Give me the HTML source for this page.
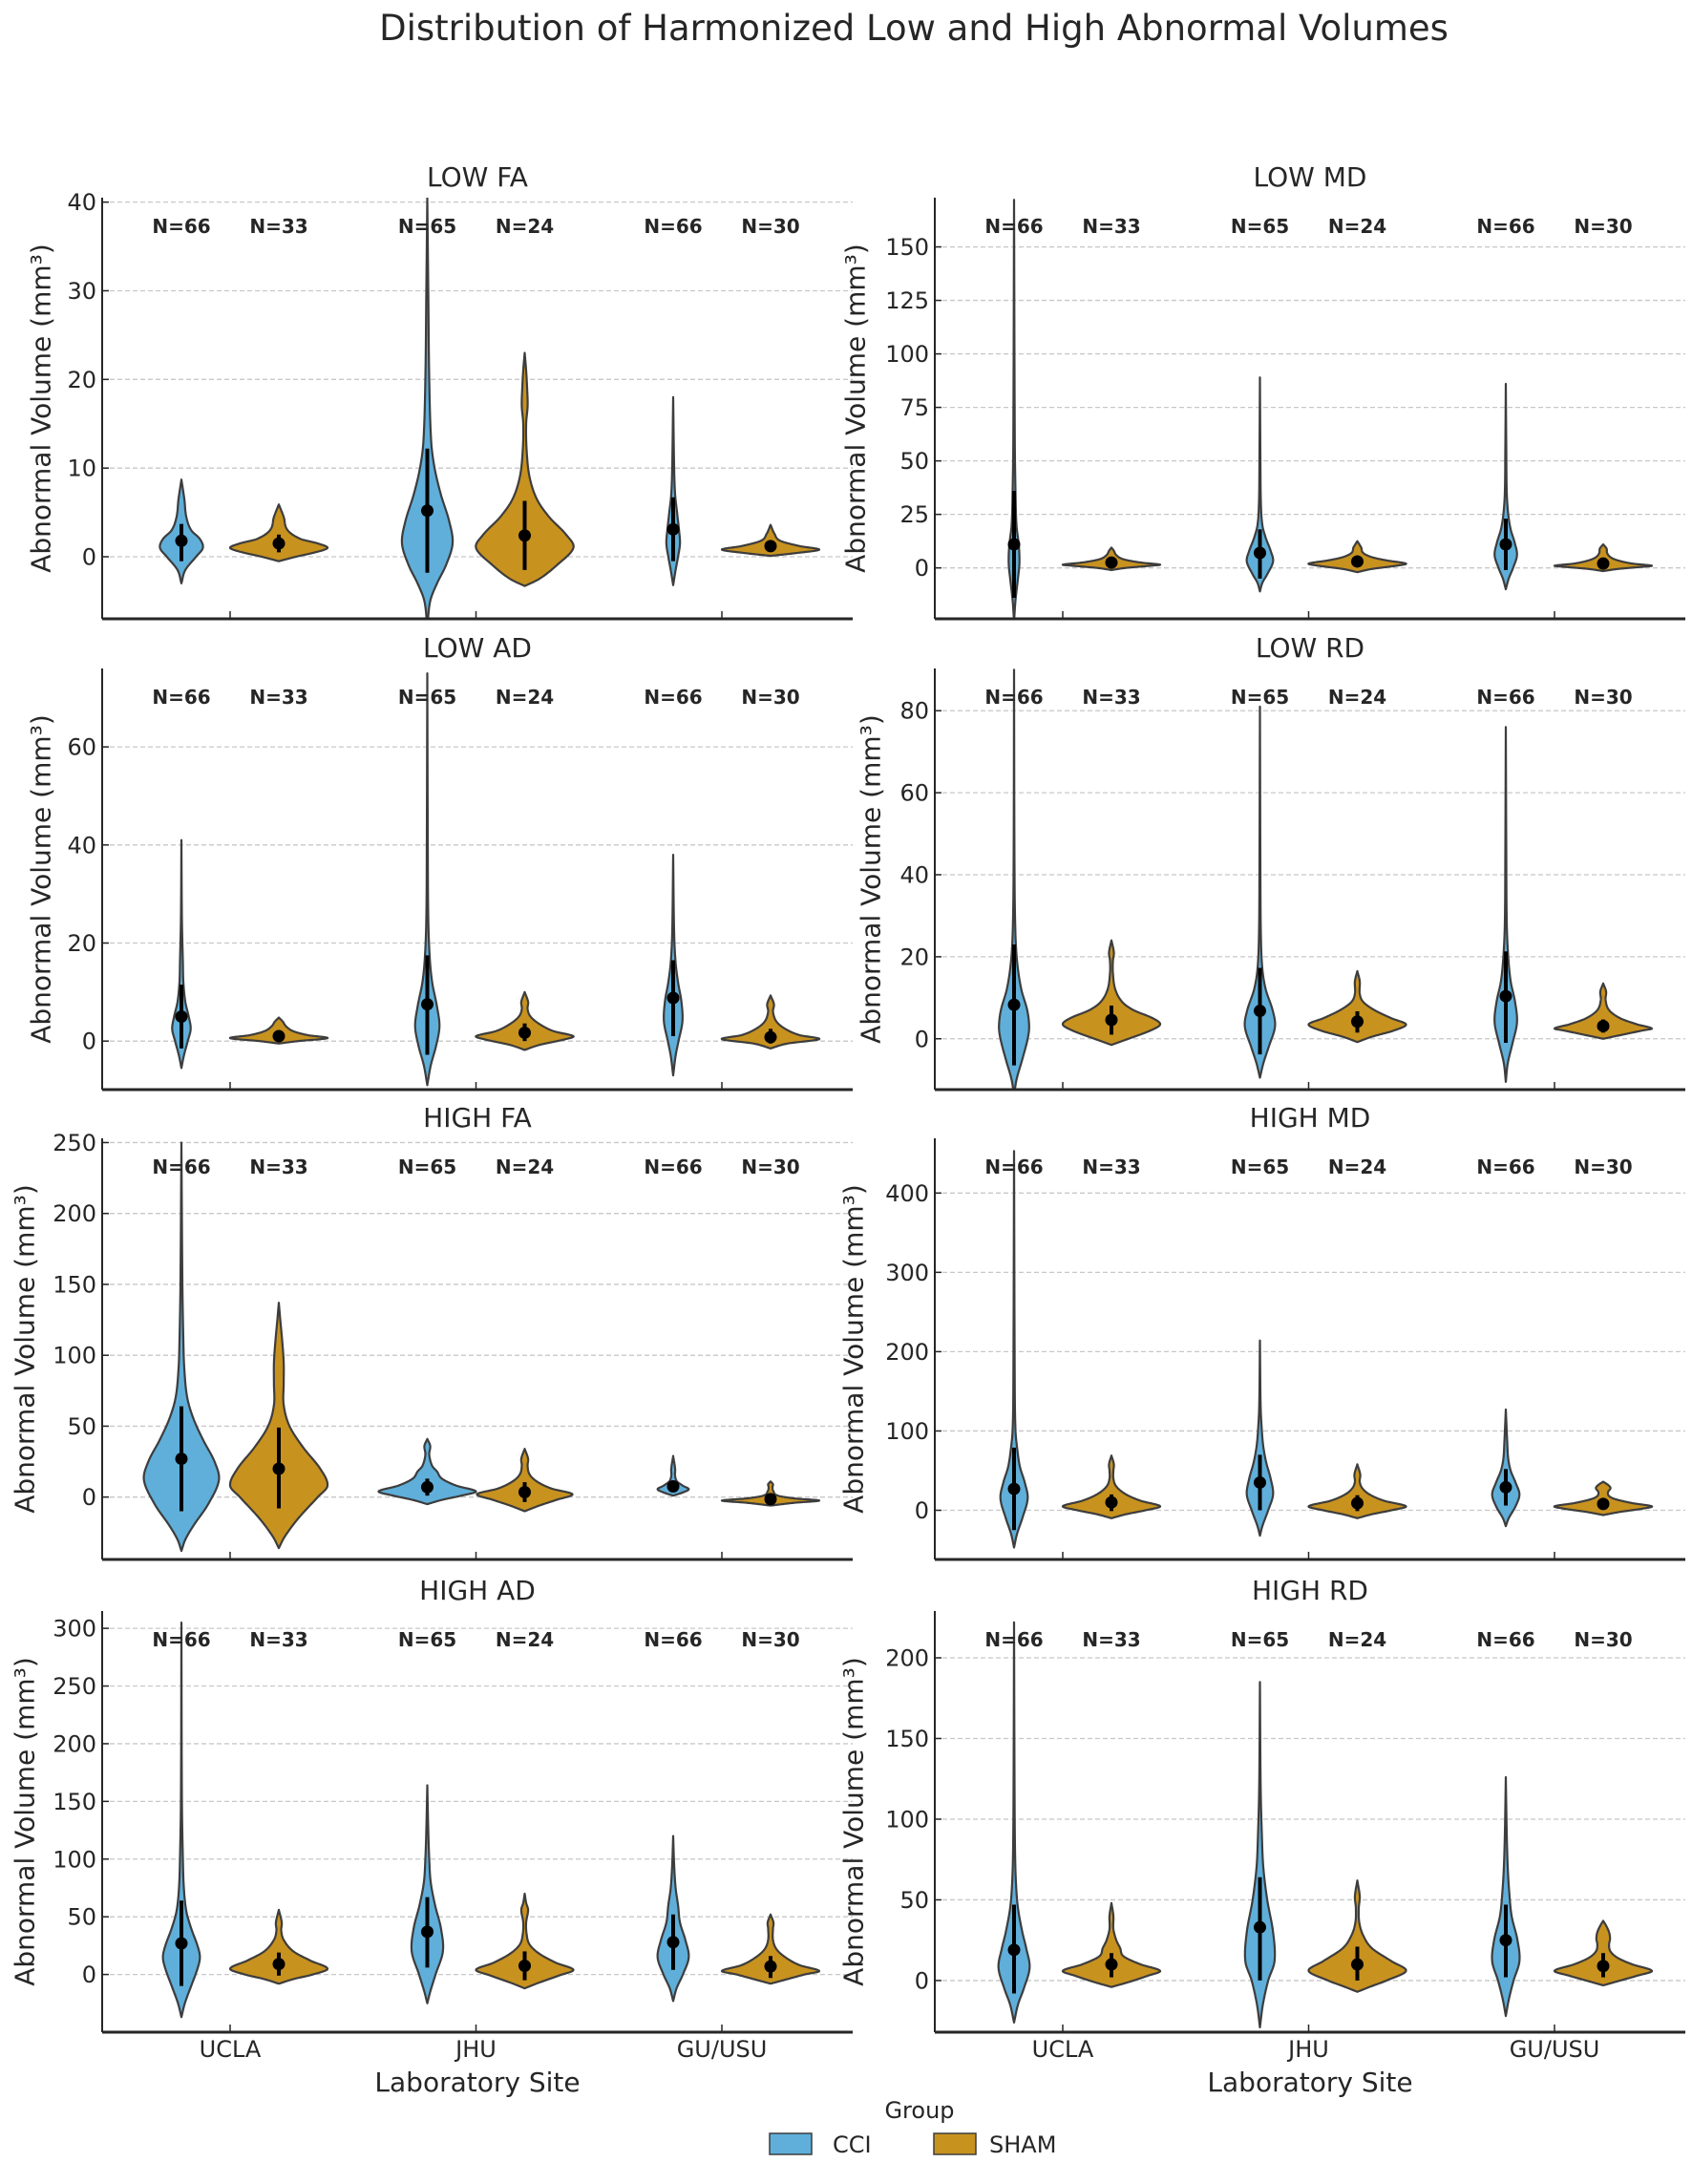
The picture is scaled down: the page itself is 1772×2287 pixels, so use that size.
<!DOCTYPE html>
<html><head><meta charset="utf-8">
<style>
html,body{margin:0;padding:0;background:#fff;}
svg{display:block;font-family:"DejaVu Sans","Liberation Sans",sans-serif;}
</style></head>
<body>
<svg id="fig" width="1772" height="2287" viewBox="0 0 1772 2287" xmlns="http://www.w3.org/2000/svg">
<rect width="1772" height="2287" fill="#fff"/>
<text x="957" y="42" font-size="37" fill="#262626" text-anchor="middle">Distribution of Harmonized Low and High Abnormal Volumes</text>
<text x="500" y="2190" font-size="28" fill="#262626" text-anchor="middle">Laboratory Site</text>
<text x="1372" y="2190" font-size="28" fill="#262626" text-anchor="middle">Laboratory Site</text>
<g>
<text x="963" y="2218" font-size="24" fill="#262626" text-anchor="middle">Group</text>
<rect x="806" y="2234" width="44" height="22" fill="#5fafda" stroke="#3d3d3d" stroke-width="1.5"/>
<text x="872" y="2254" font-size="24" fill="#262626">CCI</text>
<rect x="978" y="2234" width="44" height="22" fill="#c8921f" stroke="#3d3d3d" stroke-width="1.5"/>
<text x="1036" y="2254" font-size="24" fill="#262626">SHAM</text>
</g>
</svg>
<script>
// ---- data (order: UCLA CCI, UCLA SHAM, JHU CCI, JHU SHAM, GU/USU CCI, GU/USU SHAM) ----
const sites = ['UCLA','JHU','GU/USU'];
const groups = ['CCI','SHAM'];
const counts = [66,33,65,24,66,30];
const panelTitles = ['LOW FA','LOW MD','LOW AD','LOW RD','HIGH FA','HIGH MD','HIGH AD','HIGH RD'];
const yMins = [-7.0,-23.8,-9.9,-12.4,-44,-62,-50,-32];
const yMaxs = [40.5,173,76,90.3,253,469,315,229];
const yTicks = [[0,10,20,30,40],[0,25,50,75,100,125,150],[0,20,40,60],[0,20,40,60,80],[0,50,100,150,200,250],[0,100,200,300,400],[0,50,100,150,200,250,300],[0,50,100,150,200]];

// violin density knots: [value, relative half-width]
const shapesLowFA = [
 [[-3,0],[-1.5,0.08],[0,0.3],[1,0.44],[2,0.38],[3,0.2],[4.5,0.1],[6.5,0.06],[8.7,0]],
 [[-0.5,0],[0,0.35],[0.5,0.75],[1,1.0],[1.5,0.8],[2,0.45],[3,0.18],[4.5,0.1],[5.9,0]],
 [[-8,0],[-5,0.06],[-3,0.2],[-1,0.38],[1.5,0.52],[4,0.45],[7,0.28],[10,0.15],[13,0.08],[20,0.04],[30,0.02],[40.5,0]],
 [[-3.3,0],[-2.5,0.3],[-1,0.65],[1,1.0],[2.5,0.85],[4.5,0.5],[6.5,0.25],[9,0.1],[12,0.04],[15,0.03],[17,0.06],[19,0.05],[21,0.03],[23,0]],
 [[-3.2,0],[-1.5,0.05],[0,0.1],[1.5,0.14],[3,0.12],[5,0.08],[7,0.04],[10,0.02],[18,0]],
 [[0.1,0],[0.4,0.5],[0.8,1.0],[1.2,0.6],[1.8,0.2],[2.6,0.08],[3.6,0]]];
const shapesLowMD = [
 [[-25,0],[-15,0.03],[-5,0.08],[2,0.11],[10,0.1],[20,0.05],[35,0.03],[60,0.015],[172,0]],
 [[-1,0],[0,0.3],[1,0.8],[1.5,1.0],[2.5,0.6],[4,0.25],[6,0.1],[8,0.05],[9.5,0]],
 [[-11,0],[-7,0.05],[-3,0.15],[3,0.27],[8,0.22],[14,0.12],[20,0.05],[30,0.02],[50,0.01],[89,0]],
 [[-2,0],[-0.5,0.3],[1,0.8],[2,1.0],[3.5,0.6],[5,0.3],[7,0.12],[9.5,0.08],[12.5,0]],
 [[-10,0],[-5,0.06],[0,0.15],[6,0.23],[12,0.18],[18,0.1],[25,0.05],[35,0.02],[55,0.01],[86,0]],
 [[-1.5,0],[-0.5,0.3],[0.5,0.8],[1,1.0],[2,0.6],[3.5,0.3],[5,0.15],[7,0.08],[9,0.07],[11,0]]];
const shapesLowAD = [
 [[-5.5,0],[-3,0.05],[0,0.13],[2.5,0.19],[5,0.15],[8,0.08],[12,0.04],[16,0.03],[25,0.01],[41,0]],
 [[-0.5,0],[0,0.4],[0.6,1.0],[1.2,0.6],[2,0.3],[3,0.15],[4,0.08],[4.8,0]],
 [[-9,0],[-5,0.07],[-1,0.18],[3,0.25],[7,0.2],[12,0.1],[17,0.05],[25,0.02],[40,0.01],[75,0]],
 [[-1.8,0],[-0.8,0.3],[0.3,0.8],[1,1.0],[2,0.6],[3.5,0.3],[5,0.12],[6.5,0.06],[8,0.07],[10,0]],
 [[-7,0],[-3,0.05],[0,0.11],[4,0.19],[8,0.17],[12,0.1],[16,0.05],[22,0.02],[38,0]],
 [[-1.5,0],[-0.5,0.35],[0.4,1.0],[1.2,0.6],[2.5,0.3],[4,0.12],[6,0.05],[7.5,0.07],[9.3,0]]];
const shapesLowRD = [
 [[-14,0],[-10,0.05],[-5,0.17],[0,0.28],[3,0.31],[7,0.27],[12,0.15],[18,0.07],[25,0.03],[40,0.01],[90,0]],
 [[-1.5,0],[0,0.35],[2,0.8],[3.5,1.0],[5,0.85],[7,0.45],[9,0.22],[12,0.08],[16,0.03],[19,0.03],[21,0.05],[24,0]],
 [[-9.5,0],[-6,0.07],[-2,0.18],[3,0.31],[7,0.26],[12,0.12],[17,0.05],[25,0.02],[40,0.01],[81,0]],
 [[-0.8,0],[0.5,0.3],[2,0.75],[3.5,1.0],[5,0.7],[7,0.35],[9,0.12],[11,0.05],[14,0.05],[16.5,0]],
 [[-10.5,0],[-6,0.04],[-1,0.14],[4,0.23],[9,0.19],[14,0.1],[20,0.05],[28,0.02],[45,0.01],[76,0]],
 [[0,0],[1,0.4],[2,0.8],[2.5,1.0],[3.5,0.7],[5,0.35],[7,0.12],[9.5,0.05],[11.5,0.06],[13.5,0]]];
const shapesHighFA = [
 [[-38,0],[-30,0.08],[-20,0.25],[-5,0.55],[12,0.77],[25,0.68],[40,0.45],[55,0.25],[70,0.12],[90,0.06],[110,0.04],[150,0.02],[250,0]],
 [[-36,0],[-28,0.12],[-15,0.4],[0,0.8],[8,1.0],[20,0.85],[35,0.5],[50,0.22],[65,0.1],[80,0.1],[95,0.1],[110,0.07],[125,0.03],[137,0]],
 [[-5,0],[-2,0.3],[1,0.7],[4,1.0],[8,0.6],[13,0.3],[18,0.2],[22,0.1],[30,0.04],[36,0.06],[41,0]],
 [[-10,0],[-6,0.3],[-2,0.65],[2,0.98],[6,0.55],[11,0.25],[16,0.1],[22,0.06],[27,0.07],[34,0]],
 [[1,0],[3,0.18],[5.5,0.32],[8,0.2],[11,0.08],[15,0.04],[20,0.04],[29,0]],
 [[-6,0],[-4,0.5],[-2.5,1.0],[-1,0.5],[1,0.15],[4,0.06],[7,0.04],[9,0.05],[11,0]]];
const shapesHighMD = [
 [[-47,0],[-30,0.06],[-10,0.17],[15,0.28],[35,0.22],[55,0.12],[80,0.06],[100,0.03],[150,0.015],[453,0]],
 [[-10,0],[-5,0.3],[0,0.7],[5,1.0],[12,0.6],[20,0.3],[30,0.1],[40,0.04],[50,0.04],[58,0.05],[69,0]],
 [[-32,0],[-20,0.05],[0,0.17],[20,0.27],[40,0.22],[60,0.13],[80,0.07],[100,0.04],[130,0.015],[214,0]],
 [[-10,0],[-5,0.3],[0,0.7],[5,1.0],[12,0.55],[20,0.25],[28,0.1],[36,0.05],[45,0.06],[58,0]],
 [[-20,0],[-10,0.06],[5,0.2],[20,0.28],[35,0.2],[50,0.1],[65,0.05],[85,0.03],[127,0]],
 [[-6,0],[-2,0.35],[2,0.8],[5,1.0],[9,0.6],[14,0.25],[18,0.12],[23,0.1],[28,0.15],[32,0.1],[36,0]]];
const shapesHighAD = [
 [[-37,0],[-25,0.07],[-10,0.2],[5,0.33],[15,0.38],[25,0.33],[40,0.2],[55,0.1],[75,0.05],[100,0.03],[150,0.01],[305,0]],
 [[-8,0],[-4,0.3],[0,0.7],[5,1.0],[12,0.65],[20,0.3],[30,0.1],[38,0.05],[45,0.06],[56,0]],
 [[-25,0],[-15,0.06],[0,0.17],[20,0.32],[40,0.28],[60,0.16],[80,0.07],[100,0.04],[125,0.02],[164,0]],
 [[-12,0],[-7,0.3],[-1,0.7],[4,1.0],[10,0.65],[18,0.3],[26,0.1],[35,0.04],[45,0.03],[56,0.07],[62,0.03],[70,0]],
 [[-23,0],[-12,0.07],[0,0.2],[15,0.32],[30,0.25],[45,0.14],[60,0.1],[75,0.05],[95,0.02],[120,0]],
 [[-8,0],[-4,0.35],[0,0.7],[3,1.0],[8,0.6],[15,0.3],[22,0.12],[30,0.05],[40,0.05],[45,0.06],[52,0]]];
const shapesHighRD = [
 [[-26,0],[-15,0.08],[-5,0.2],[8,0.32],[20,0.25],[30,0.17],[45,0.08],[60,0.04],[80,0.02],[120,0.01],[222,0]],
 [[-4,0],[-1,0.35],[3,0.75],[6,1.0],[10,0.6],[15,0.25],[20,0.18],[25,0.1],[32,0.04],[40,0.04],[48,0]],
 [[-29,0],[-15,0.06],[0,0.17],[12,0.3],[30,0.27],[50,0.15],[70,0.07],[90,0.04],[120,0.015],[185,0]],
 [[-7,0],[-4,0.25],[0,0.6],[6,1.0],[12,0.7],[20,0.3],[28,0.12],[36,0.04],[45,0.03],[52,0.05],[62,0]],
 [[-22,0],[-12,0.06],[0,0.16],[12,0.28],[25,0.24],[40,0.12],[55,0.07],[70,0.04],[90,0.02],[126,0]],
 [[-3,0],[0,0.35],[3,0.7],[6,1.0],[10,0.6],[14,0.3],[18,0.15],[22,0.12],[26,0.14],[30,0.12],[34,0.06],[37,0]]];

const meansAll = [
 [1.8,1.5,5.2,2.4,3.1,1.2],
 [11,2.5,7,3,11,2],
 [5,1,7.5,1.7,8.8,0.8],
 [8.3,4.6,6.8,4.2,10.4,3.1],
 [27,20,7,3.5,7.5,-1.5],
 [27,10,35,9,29,8],
 [27,9,37,7.5,28,7],
 [19,10,33,10,25,9]];
const barLowAll = [
 [-0.5,0.5,-1.8,-1.5,-0.5,0.8],
 [-14,1,-5,1,-1,0.5],
 [-1.5,0.3,-2.8,0,1,-0.5],
 [-6.5,1,-3.8,1.5,-1,1.5],
 [-10,-8,1,-3.5,4,-3.5],
 [-25,-1,0,-1,6,3],
 [-10,-1,6,-5,4,-3],
 [-8,2,0,0,2,2]];
const barHighAll = [
 [3.7,2.5,12.2,6.3,6.7,1.5],
 [36,4,18,5,23,3.5],
 [11.5,1.8,17.5,3.6,16.5,2.5],
 [23,8.1,17.3,6.7,21.3,4.7],
 [64,49,13,10.5,10.5,0.5],
 [79,20,70,19,52,12],
 [64,19,67,20,52,16],
 [47,17,64,21,47,17]];
const shapesAll = [shapesLowFA,shapesLowMD,shapesLowAD,shapesLowRD,shapesHighFA,shapesHighMD,shapesHighAD,shapesHighRD];

// ---- drawing ----
const NS = 'http://www.w3.org/2000/svg';
const svg = document.getElementById('fig');
const fills = ['#5fafda','#c8921f'];
const rowTops = [207,700,1192,1687];
const colLefts = [107,979];
const PW = 786, PH = 441, HWMAX = 51;
const ylabX = [[43,896],[43,912],[26,894],[26,894]];

function mk(tag, attrs, parent){
  const e = document.createElementNS(NS, tag);
  for (const k in attrs) e.setAttribute(k, attrs[k]);
  parent.appendChild(e);
  return e;
}
function hw(knots, v){
  const n = knots.length;
  let i = 0;
  while (i < n-2 && v > knots[i+1][0]) i++;
  const p0 = knots[Math.max(i-1,0)], p1 = knots[i], p2 = knots[i+1], p3 = knots[Math.min(i+2,n-1)];
  const h = p2[0]-p1[0];
  const t = h > 0 ? (v-p1[0])/h : 0;
  const m1 = (p2[1]-p0[1])/(p2[0]-p0[0] || 1)*h;
  const m2 = (p3[1]-p1[1])/(p3[0]-p1[0] || 1)*h;
  const t2=t*t, t3=t2*t;
  const r = (2*t3-3*t2+1)*p1[1] + (t3-2*t2+t)*m1 + (-2*t3+3*t2)*p2[1] + (t3-t2)*m2;
  return Math.max(0, r);
}

for (let p = 0; p < 8; p++){
  const row = Math.floor(p/2), col = p%2;
  const L = colLefts[col], T = rowTops[row];
  const ymin = yMins[p], ymax = yMaxs[p];
  const y = v => T + (ymax - v)/(ymax - ymin)*PH;
  const cx = i => L + 134 + Math.floor(i/2)*257.5 + (i%2 ? 51 : -51);
  const g = mk('g', {}, svg);
  
  
  yTicks[p].forEach(t => {
    const gl = mk('line', {x1:L, x2:L+PW, y1:y(t), y2:y(t), stroke:'#c8c8c8', 'stroke-width':1.3, 'stroke-dasharray':'5,3'}, g);
    
    
    const tk = mk('line', {x1:L, x2:L+7, y1:y(t), y2:y(t), stroke:'#262626', 'stroke-width':1.5}, g);
    
    
    const tl = mk('text', {x:L-6, y:y(t)+8.5, 'font-size':24, fill:'#262626', 'text-anchor':'end'}, g);
    tl.textContent = t;
    
    
  });
  const cp = mk('clipPath', {id:'clip'+p}, g);
  mk('rect', {x:L, y:T, width:PW, height:PH}, cp);
  const vg = mk('g', {'clip-path':'url(#clip'+p+')'}, g);
  for (let i = 0; i < 6; i++){
    const kn = shapesAll[p][i];
    const v0 = kn[0][0], v1 = kn[kn.length-1][0];
    const N = 160, right = [], left = [];
    for (let s = 0; s <= N; s++){
      const v = v0 + (v1-v0)*s/N;
      const w = hw(kn, v)*HWMAX;
      right.push((cx(i)+w).toFixed(2)+','+y(v).toFixed(2));
      left.unshift((cx(i)-w).toFixed(2)+','+y(v).toFixed(2));
    }
    const vp = mk('path', {d:'M'+right.join('L')+'L'+left.join('L')+'Z', fill:fills[i%2], stroke:'#3d3d3d', 'stroke-width':2.2, 'stroke-linejoin':'round'}, vg);
    
    
    const br = mk('line', {x1:cx(i), x2:cx(i), y1:y(barLowAll[p][i]), y2:y(barHighAll[p][i]), stroke:'#000', 'stroke-width':4}, vg);
    
    
    const dt = mk('circle', {cx:cx(i), cy:y(meansAll[p][i]), r:6.5, fill:'#000'}, vg);
    
    
  }
  for (let i = 0; i < 6; i++){
    const nl = mk('text', {x:cx(i), y:T+37, 'font-size':20, 'font-weight':'bold', fill:'#262626', 'text-anchor':'middle'}, g);
    nl.textContent = 'N=' + counts[i];
    
    
  }
  const ls = mk('line', {x1:L, x2:L, y1:T, y2:T+PH, stroke:'#262626', 'stroke-width':2}, g);
  
  
  const bs = mk('line', {x1:L, x2:L+PW, y1:T+PH, y2:T+PH, stroke:'#262626', 'stroke-width':3}, g);
  
  
  for (let c = 0; c < 3; c++){
    const xc = L + 134 + c*257.5;
    const xt = mk('line', {x1:xc, x2:xc, y1:T+PH-8, y2:T+PH, stroke:'#262626', 'stroke-width':1.5}, g);
    
    
    if (row === 3){
      const xl = mk('text', {x:xc, y:T+PH+26, 'font-size':24, fill:'#262626', 'text-anchor':'middle'}, g);
      xl.textContent = sites[c];
      
      
    }
  }
  const tt = mk('text', {x:L+PW/2, y:T-12, 'font-size':28, fill:'#262626', 'text-anchor':'middle'}, g);
  tt.textContent = panelTitles[p];
  
  
  const yx = ylabX[row][col], yc = T + PH/2;
  const yl = mk('text', {x:yx, y:yc, 'font-size':28, fill:'#262626', 'text-anchor':'middle', 'dominant-baseline':'central', transform:'rotate(-90 '+yx+' '+yc+')'}, g);
  yl.textContent = 'Abnormal Volume (mm³)';
  
  
}
</script>
</body></html>
